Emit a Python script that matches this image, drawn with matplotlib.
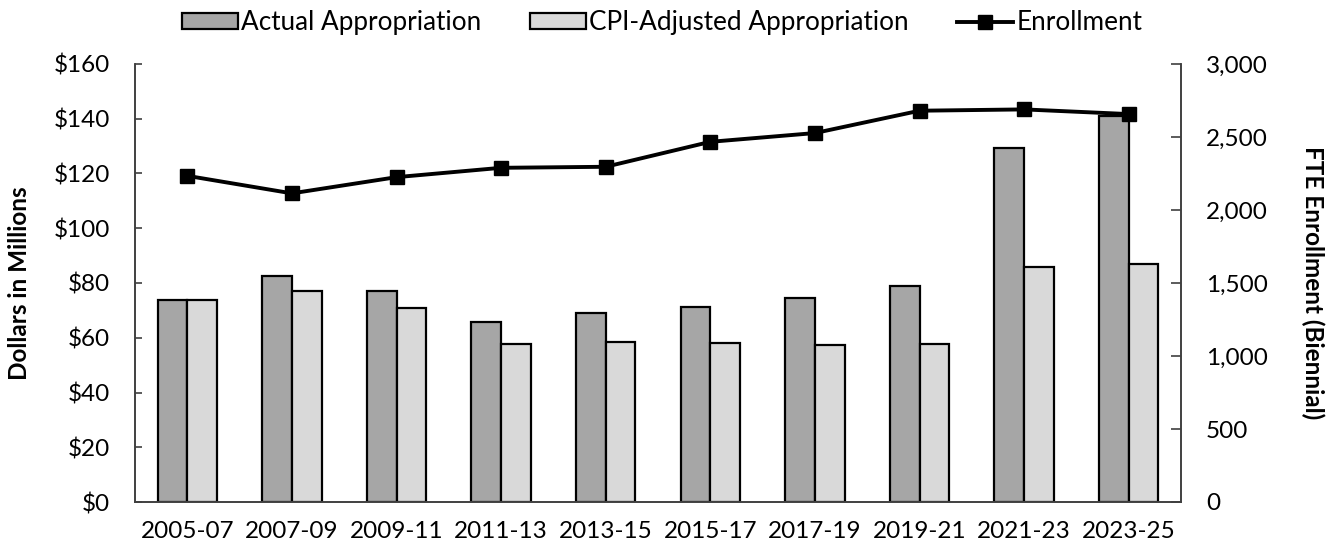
import numpy as np
import matplotlib.pyplot as plt
from matplotlib.ticker import FuncFormatter

plt.rcParams['font.family'] = ['Lato', 'DejaVu Sans']

# biennium labels
periodos = ["2005-07", "2007-09", "2009-11", "2011-13", "2013-15",
            "2015-17", "2017-19", "2019-21", "2021-23", "2023-25"]
# appropriations, $ millions
atual = [73.7, 82.5, 77.1, 65.6, 69.0, 71.2, 74.5, 78.8, 129.2, 140.9]
ajustado_cpi = [73.7, 77.1, 70.7, 57.6, 58.4, 58.0, 57.2, 57.6, 86.0, 86.9]
# FTE enrollment (biennial)
matricula = [2234, 2114, 2225, 2289, 2296, 2467, 2527, 2680, 2689, 2657]

x = np.arange(len(periodos))
larg = 0.284
fs = 17.5

fig = plt.figure(figsize=(13.43, 5.46), dpi=100)
ax = fig.add_axes([135/1343, 1-502/546, (1181-135)/1343, (502-64)/546])
ax2 = ax.twinx()

b1 = ax.bar(x - larg/2, atual, larg, color="#a6a6a6", edgecolor="black",
            linewidth=1.6, label="Actual Appropriation", zorder=2)
b2 = ax.bar(x + larg/2, ajustado_cpi, larg, color="#d9d9d9", edgecolor="black",
            linewidth=1.6, label="CPI-Adjusted Appropriation", zorder=2)
l1, = ax2.plot(x, matricula, color="black", linewidth=2.8, marker="s",
               markersize=10, label="Enrollment")

ax.set_xlim(-0.5, len(periodos) - 0.5)
ax.set_ylim(0, 160)
ax.set_yticks(np.arange(0, 161, 20))
ax.yaxis.set_major_formatter(FuncFormatter(lambda v, p: "${:,.0f}".format(v)))
ax2.set_ylim(0, 3000)
ax2.set_yticks(np.arange(0, 3001, 500))
ax2.yaxis.set_major_formatter(FuncFormatter(lambda v, p: "{:,.0f}".format(v)))

ax.set_xticks(x)
ax.set_xticklabels(periodos)

for a in (ax, ax2):
    a.spines["top"].set_visible(False)
    for lado in ("left", "right", "bottom"):
        a.spines[lado].set_color("#404040")
        a.spines[lado].set_linewidth(1.2)

ax.tick_params(axis="y", direction="in", length=5, width=1.2, color="#404040",
               labelsize=fs, pad=18)
ax.tick_params(axis="x", length=0, labelsize=fs, pad=14)
ax2.tick_params(axis="y", direction="in", length=7, width=1.2, color="#404040",
                labelsize=fs, pad=18)

ax.set_ylabel("Dollars in Millions", fontsize=fs, fontweight="bold", labelpad=16)
ax2.set_ylabel("FTE Enrollment (Biennial)", fontsize=fs, fontweight="bold",
               rotation=270, labelpad=41)

fig.legend(handles=[b1, b2, l1], loc="center", bbox_to_anchor=(0.493, 0.958),
           ncol=3, frameon=False, fontsize=18.8, handlelength=2.15,
           handleheight=0.55, handletextpad=0.12, columnspacing=1.85)

plt.savefig("out.png", dpi=100)
